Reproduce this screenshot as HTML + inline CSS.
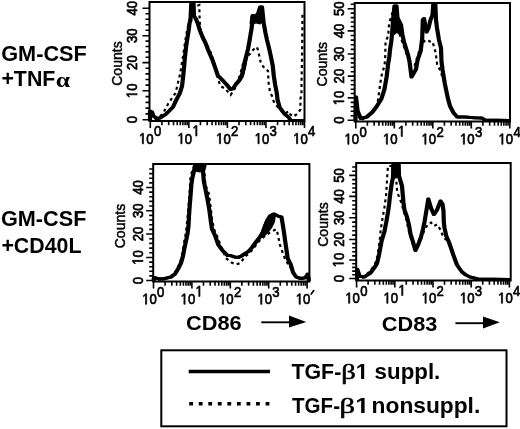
<!DOCTYPE html>
<html><head><meta charset="utf-8"><style>
html,body{margin:0;padding:0;background:#fff;overflow:hidden;}
svg{display:block;will-change:transform;}
</style></head><body>
<svg width="520" height="429" viewBox="0 0 520 429" font-family='"Liberation Sans", sans-serif'>
<style>.d{stroke:#000;stroke-width:0.7px}.c{stroke:#000;stroke-width:0.45px}</style>
<rect width="520" height="429" fill="#fff"/>
<rect x="149.5" y="2" width="155" height="119" fill="none" stroke="#000" stroke-width="2"/>
<path d="M142.5 119.7H149.5M145.5 113.92H149.5M145.5 108.14H149.5M145.5 102.36H149.5M145.5 96.58H149.5M142.5 90.8H149.5M145.5 85.16H149.5M145.5 79.52H149.5M145.5 73.88H149.5M145.5 68.24H149.5M142.5 62.6H149.5M145.5 57.24H149.5M145.5 51.88H149.5M145.5 46.52H149.5M145.5 41.16H149.5M142.5 35.8H149.5M145.5 30.28H149.5M145.5 24.76H149.5M145.5 19.24H149.5M145.5 13.72H149.5M142.5 8.2H149.5M150.3 121V128M161.9 121V125.3M168.69 121V125.3M173.51 121V125.3M177.25 121V125.3M180.3 121V125.3M182.88 121V125.3M185.11 121V125.3M187.09 121V125.3M188.85 121V128M200.45 121V125.3M207.24 121V125.3M212.06 121V125.3M215.8 121V125.3M218.85 121V125.3M221.43 121V125.3M223.66 121V125.3M225.64 121V125.3M227.4 121V128M239 121V125.3M245.79 121V125.3M250.61 121V125.3M254.35 121V125.3M257.4 121V125.3M259.98 121V125.3M262.21 121V125.3M264.19 121V125.3M265.95 121V128M277.55 121V125.3M284.34 121V125.3M289.16 121V125.3M292.9 121V125.3M295.95 121V125.3M298.53 121V125.3M300.76 121V125.3M302.74 121V125.3M304.5 121V128" stroke="#000" stroke-width="1.6" fill="none"/>
<g transform="translate(137.2 119.7) rotate(-90) scale(0.86 1)"><text class="d" x="-4.25" font-size="15.3">0</text></g>
<g transform="translate(137.2 90.8) rotate(-90) scale(0.86 1)"><path class="d" d="M515 0L515 1237L197 1010L197 1180L530 1409L696 1409L696 0Z" transform="translate(-8.51 0) scale(0.00747 -0.00747)" vector-effect="non-scaling-stroke"/><text class="d" x="0" font-size="15.3">0</text></g>
<g transform="translate(137.2 62.6) rotate(-90) scale(0.86 1)"><text class="d" x="-8.51" font-size="15.3">2</text><text class="d" x="0" font-size="15.3">0</text></g>
<g transform="translate(137.2 35.8) rotate(-90) scale(0.86 1)"><text class="d" x="-8.51" font-size="15.3">3</text><text class="d" x="0" font-size="15.3">0</text></g>
<g transform="translate(137.2 8.2) rotate(-90) scale(0.86 1)"><text class="d" x="-8.51" font-size="15.3">4</text><text class="d" x="0" font-size="15.3">0</text></g>
<text transform="translate(122.1 63.5) rotate(-90) scale(1.02 1)" text-anchor="middle" font-size="13.8" class="c">Counts</text>
<g transform="translate(139 143.8) scale(0.86 1)"><path class="d" d="M515 0L515 1237L197 1010L197 1180L530 1409L696 1409L696 0Z" transform="translate(0 0) scale(0.00747 -0.00747)" vector-effect="non-scaling-stroke"/><text class="d" x="8.51" font-size="15.3">0</text></g>
<g transform="translate(153.9 136) scale(0.86 1)"><text class="d" x="0" font-size="15.3">0</text></g>
<g transform="translate(177.55 143.8) scale(0.86 1)"><path class="d" d="M515 0L515 1237L197 1010L197 1180L530 1409L696 1409L696 0Z" transform="translate(0 0) scale(0.00747 -0.00747)" vector-effect="non-scaling-stroke"/><text class="d" x="8.51" font-size="15.3">0</text></g>
<g transform="translate(192.45 136) scale(0.86 1)"><path class="d" d="M515 0L515 1237L197 1010L197 1180L530 1409L696 1409L696 0Z" transform="translate(0 0) scale(0.00747 -0.00747)" vector-effect="non-scaling-stroke"/></g>
<g transform="translate(216.1 143.8) scale(0.86 1)"><path class="d" d="M515 0L515 1237L197 1010L197 1180L530 1409L696 1409L696 0Z" transform="translate(0 0) scale(0.00747 -0.00747)" vector-effect="non-scaling-stroke"/><text class="d" x="8.51" font-size="15.3">0</text></g>
<g transform="translate(231 136) scale(0.86 1)"><text class="d" x="0" font-size="15.3">2</text></g>
<g transform="translate(254.65 143.8) scale(0.86 1)"><path class="d" d="M515 0L515 1237L197 1010L197 1180L530 1409L696 1409L696 0Z" transform="translate(0 0) scale(0.00747 -0.00747)" vector-effect="non-scaling-stroke"/><text class="d" x="8.51" font-size="15.3">0</text></g>
<g transform="translate(269.55 136) scale(0.86 1)"><text class="d" x="0" font-size="15.3">3</text></g>
<g transform="translate(293.2 143.8) scale(0.86 1)"><path class="d" d="M515 0L515 1237L197 1010L197 1180L530 1409L696 1409L696 0Z" transform="translate(0 0) scale(0.00747 -0.00747)" vector-effect="non-scaling-stroke"/><text class="d" x="8.51" font-size="15.3">0</text></g>
<g transform="translate(308.1 136) scale(0.86 1)"><text class="d" x="0" font-size="15.3">4</text></g>
<polyline points="155,120 158.8,117.7 163.4,113 165.8,108 169,102.5 172.5,97.5 175.5,93 177.2,86.3 178.4,81 180,74.5 182.7,58.5 184.2,48 185.6,39.2 187,31 188.5,23.8 190,17 192,11 195,6.5 199.3,5 199.6,19 200.5,31 202.5,38 207,45 211.5,54 214,62 216,70 217.5,77 220.3,86 225,88.5 230.6,95 234,90 237,84 240,75 243,64 247,56 250,54 253,50 256.8,47 258,50 261,63.8 264.5,68 268,70.8 268.5,82 270,92 272,96 273.5,101 276,105 279,108.5 282,111.5 285,113.5 287.5,112 289.4,111.5 290,114 293,116.7 297.8,113.6 300.4,109.4 300.4,99 301.5,94.7 301.5,83 302,60 302.5,14.6" fill="none" stroke="#000" stroke-width="2.2" stroke-dasharray="3 3.3"/>
<polyline points="150,121 150,111 152,112 153.4,116 157,118.5 160,118 165.8,114.3 172.8,107.3 176,100.5 179.8,93.3 182,86.3 183,78 184,68 184.8,58.5 186.2,46 187.5,37.4 188.6,30.8 189.5,23.4 190.5,20 191.3,3 193.5,3 194,16 196,19 197.7,23.4 200,30.8 202.5,37 205.5,43 208,49.7 212.3,59.6 215.8,69.5 217.8,75.5 223.7,81.4 227,85 230.5,89.5 233,88.5 236,84 239.5,80 242,75 243.5,68 244.8,61.6 246.5,55 248,49 249.3,42 250.3,36 251.5,29 252.3,22 252.8,15.6 254.5,16 256,15.5 258,14 260.2,7 262,7 263.6,22.4 265.5,33 267,40 269,48 271,57 272.8,66 273.8,76 275.2,85 276.6,92 277.6,100 279.8,107.7 284.5,113.8 289,117.7 290.6,120.5 304,120.5" fill="none" stroke="#000" stroke-width="3.0" stroke-linejoin="round" transform="translate(-0.6 0)"/>
<polyline points="150,121 150,111 152,112 153.4,116 157,118.5 160,118 165.8,114.3 172.8,107.3 176,100.5 179.8,93.3 182,86.3 183,78 184,68 184.8,58.5 186.2,46 187.5,37.4 188.6,30.8 189.5,23.4 190.5,20 191.3,3 193.5,3 194,16 196,19 197.7,23.4 200,30.8 202.5,37 205.5,43 208,49.7 212.3,59.6 215.8,69.5 217.8,75.5 223.7,81.4 227,85 230.5,89.5 233,88.5 236,84 239.5,80 242,75 243.5,68 244.8,61.6 246.5,55 248,49 249.3,42 250.3,36 251.5,29 252.3,22 252.8,15.6 254.5,16 256,15.5 258,14 260.2,7 262,7 263.6,22.4 265.5,33 267,40 269,48 271,57 272.8,66 273.8,76 275.2,85 276.6,92 277.6,100 279.8,107.7 284.5,113.8 289,117.7 290.6,120.5 304,120.5" fill="none" stroke="#000" stroke-width="3.0" stroke-linejoin="round" transform="translate(0.6 0)"/>
<polyline points="234,87 239,81.5 242.5,76 244.5,68 246,60 247.5,53" fill="none" stroke="#000" stroke-width="3.0" stroke-linejoin="round"/>
<polygon points="250.5,15.5 253.5,14.8 256,16 258.5,14 260,9 262.3,9 263.5,22 260,24.5 256,23.5 252,25 249.5,23.5" fill="#000"/>
<rect x="354.7" y="3" width="155.3" height="118.5" fill="none" stroke="#000" stroke-width="2"/>
<path d="M347.7 120.2H354.7M350.7 115.74H354.7M350.7 111.28H354.7M350.7 106.82H354.7M350.7 102.36H354.7M347.7 97.9H354.7M350.7 93.54H354.7M350.7 89.18H354.7M350.7 84.82H354.7M350.7 80.46H354.7M347.7 76.1H354.7M350.7 71.68H354.7M350.7 67.26H354.7M350.7 62.84H354.7M350.7 58.42H354.7M347.7 54H354.7M350.7 49.38H354.7M350.7 44.76H354.7M350.7 40.14H354.7M350.7 35.52H354.7M347.7 30.9H354.7M350.7 26.46H354.7M350.7 22.02H354.7M350.7 17.58H354.7M350.7 13.14H354.7M347.7 8.7H354.7M350.7 4.26H354.7M355.8 121.5V128.5M367.39 121.5V125.8M374.17 121.5V125.8M378.98 121.5V125.8M382.71 121.5V125.8M385.76 121.5V125.8M388.34 121.5V125.8M390.57 121.5V125.8M392.54 121.5V125.8M394.3 121.5V128.5M405.89 121.5V125.8M412.67 121.5V125.8M417.48 121.5V125.8M421.21 121.5V125.8M424.26 121.5V125.8M426.84 121.5V125.8M429.07 121.5V125.8M431.04 121.5V125.8M432.8 121.5V128.5M444.39 121.5V125.8M451.17 121.5V125.8M455.98 121.5V125.8M459.71 121.5V125.8M462.76 121.5V125.8M465.34 121.5V125.8M467.57 121.5V125.8M469.54 121.5V125.8M471.3 121.5V128.5M482.89 121.5V125.8M489.67 121.5V125.8M494.48 121.5V125.8M498.21 121.5V125.8M501.26 121.5V125.8M503.84 121.5V125.8M506.07 121.5V125.8M508.04 121.5V125.8M509.8 121.5V128.5" stroke="#000" stroke-width="1.6" fill="none"/>
<g transform="translate(344 120.2) rotate(-90) scale(0.86 1)"><text class="d" x="-4.25" font-size="15.3">0</text></g>
<g transform="translate(344 97.9) rotate(-90) scale(0.86 1)"><path class="d" d="M515 0L515 1237L197 1010L197 1180L530 1409L696 1409L696 0Z" transform="translate(-8.51 0) scale(0.00747 -0.00747)" vector-effect="non-scaling-stroke"/><text class="d" x="0" font-size="15.3">0</text></g>
<g transform="translate(344 76.1) rotate(-90) scale(0.86 1)"><text class="d" x="-8.51" font-size="15.3">2</text><text class="d" x="0" font-size="15.3">0</text></g>
<g transform="translate(344 54) rotate(-90) scale(0.86 1)"><text class="d" x="-8.51" font-size="15.3">3</text><text class="d" x="0" font-size="15.3">0</text></g>
<g transform="translate(344 30.9) rotate(-90) scale(0.86 1)"><text class="d" x="-8.51" font-size="15.3">4</text><text class="d" x="0" font-size="15.3">0</text></g>
<g transform="translate(344 8.7) rotate(-90) scale(0.86 1)"><text class="d" x="-8.51" font-size="15.3">5</text><text class="d" x="0" font-size="15.3">0</text></g>
<text transform="translate(327.2 64.2) rotate(-90) scale(1.02 1)" text-anchor="middle" font-size="13.8" class="c">Counts</text>
<g transform="translate(344.5 144.3) scale(0.86 1)"><path class="d" d="M515 0L515 1237L197 1010L197 1180L530 1409L696 1409L696 0Z" transform="translate(0 0) scale(0.00747 -0.00747)" vector-effect="non-scaling-stroke"/><text class="d" x="8.51" font-size="15.3">0</text></g>
<g transform="translate(359.4 136.5) scale(0.86 1)"><text class="d" x="0" font-size="15.3">0</text></g>
<g transform="translate(383 144.3) scale(0.86 1)"><path class="d" d="M515 0L515 1237L197 1010L197 1180L530 1409L696 1409L696 0Z" transform="translate(0 0) scale(0.00747 -0.00747)" vector-effect="non-scaling-stroke"/><text class="d" x="8.51" font-size="15.3">0</text></g>
<g transform="translate(397.9 136.5) scale(0.86 1)"><path class="d" d="M515 0L515 1237L197 1010L197 1180L530 1409L696 1409L696 0Z" transform="translate(0 0) scale(0.00747 -0.00747)" vector-effect="non-scaling-stroke"/></g>
<g transform="translate(421.5 144.3) scale(0.86 1)"><path class="d" d="M515 0L515 1237L197 1010L197 1180L530 1409L696 1409L696 0Z" transform="translate(0 0) scale(0.00747 -0.00747)" vector-effect="non-scaling-stroke"/><text class="d" x="8.51" font-size="15.3">0</text></g>
<g transform="translate(436.4 136.5) scale(0.86 1)"><text class="d" x="0" font-size="15.3">2</text></g>
<g transform="translate(460 144.3) scale(0.86 1)"><path class="d" d="M515 0L515 1237L197 1010L197 1180L530 1409L696 1409L696 0Z" transform="translate(0 0) scale(0.00747 -0.00747)" vector-effect="non-scaling-stroke"/><text class="d" x="8.51" font-size="15.3">0</text></g>
<g transform="translate(474.9 136.5) scale(0.86 1)"><text class="d" x="0" font-size="15.3">3</text></g>
<g transform="translate(498.5 144.3) scale(0.86 1)"><path class="d" d="M515 0L515 1237L197 1010L197 1180L530 1409L696 1409L696 0Z" transform="translate(0 0) scale(0.00747 -0.00747)" vector-effect="non-scaling-stroke"/><text class="d" x="8.51" font-size="15.3">0</text></g>
<g transform="translate(513.4 136.5) scale(0.86 1)"><text class="d" x="0" font-size="15.3">4</text></g>
<polyline points="362,120 368.4,114.5 373,110.5 376.3,107.5 378,100 379,93 380.5,82 382,73.5 384.5,66 385.2,58 385.4,48 385.6,41 388.3,36 388.6,28 389.5,22 392,14 393.8,9.2 396,20 399,32 403,44 407,55 411,66 414.5,66 418,55 421,45 425.3,40 430,41.5 432.5,41.5 435.6,52.3 437.2,64.6 440,70 443.5,80" fill="none" stroke="#000" stroke-width="2.2" stroke-dasharray="3 3.3"/>
<polyline points="355.5,121 356,97 357.6,110.8 360.7,118.5 366.8,117 372.5,112 377,106 381.3,99 384.3,90 386.6,77 388.1,64 389.3,57 390,50 391.2,42 392,35 393,20 394.5,6 396.5,6 397.5,18 401,25 402.5,35 404,42 406.5,50 408.3,56 409.5,61.5 411.5,77 416,69.2 417.6,60 420.7,50.8 422.2,38.5 422.8,20 424,18.5 426.5,32 428.5,28 430.5,20 432.5,15 433.3,3.5 435.3,3.5 436,20 437,28 439,40 441,48 441.5,61.5 442.6,70 444.8,83.6 447.8,98 450,106 453.3,112.5 457.2,117 464.8,117 474,117.7 481.8,118 484.8,120 509,120.5" fill="none" stroke="#000" stroke-width="3.0" stroke-linejoin="round" transform="translate(-0.6 0)"/>
<polyline points="355.5,121 356,97 357.6,110.8 360.7,118.5 366.8,117 372.5,112 377,106 381.3,99 384.3,90 386.6,77 388.1,64 389.3,57 390,50 391.2,42 392,35 393,20 394.5,6 396.5,6 397.5,18 401,25 402.5,35 404,42 406.5,50 408.3,56 409.5,61.5 411.5,77 416,69.2 417.6,60 420.7,50.8 422.2,38.5 422.8,20 424,18.5 426.5,32 428.5,28 430.5,20 432.5,15 433.3,3.5 435.3,3.5 436,20 437,28 439,40 441,48 441.5,61.5 442.6,70 444.8,83.6 447.8,98 450,106 453.3,112.5 457.2,117 464.8,117 474,117.7 481.8,118 484.8,120 509,120.5" fill="none" stroke="#000" stroke-width="3.0" stroke-linejoin="round" transform="translate(0.6 0)"/>
<polygon points="393.6,9 397.2,9 397.8,18 401.5,22 402.6,34 400,35.5 397,33 394.5,35 392.2,34 392.5,20" fill="#000"/>
<rect x="153.2" y="164" width="156.2" height="117.5" fill="none" stroke="#000" stroke-width="2"/>
<path d="M146.2 280.5H153.2M149.2 275.9H153.2M149.2 271.3H153.2M149.2 266.7H153.2M149.2 262.1H153.2M146.2 257.5H153.2M149.2 252.8H153.2M149.2 248.1H153.2M149.2 243.4H153.2M149.2 238.7H153.2M146.2 234H153.2M149.2 229.34H153.2M149.2 224.68H153.2M149.2 220.02H153.2M149.2 215.36H153.2M146.2 210.7H153.2M149.2 206.06H153.2M149.2 201.42H153.2M149.2 196.78H153.2M149.2 192.14H153.2M146.2 187.5H153.2M149.2 182.86H153.2M149.2 178.22H153.2M149.2 173.58H153.2M149.2 168.94H153.2M153.5 281.5V288.5M165.06 281.5V285.8M171.82 281.5V285.8M176.62 281.5V285.8M180.34 281.5V285.8M183.38 281.5V285.8M185.95 281.5V285.8M188.18 281.5V285.8M190.14 281.5V285.8M191.9 281.5V288.5M203.46 281.5V285.8M210.22 281.5V285.8M215.02 281.5V285.8M218.74 281.5V285.8M221.78 281.5V285.8M224.35 281.5V285.8M226.58 281.5V285.8M228.54 281.5V285.8M230.3 281.5V288.5M241.86 281.5V285.8M248.62 281.5V285.8M253.42 281.5V285.8M257.14 281.5V285.8M260.18 281.5V285.8M262.75 281.5V285.8M264.98 281.5V285.8M266.94 281.5V285.8M268.7 281.5V288.5M280.26 281.5V285.8M287.02 281.5V285.8M291.82 281.5V285.8M295.54 281.5V285.8M298.58 281.5V285.8M301.15 281.5V285.8M303.38 281.5V285.8M305.34 281.5V285.8M307.1 281.5V288.5" stroke="#000" stroke-width="1.6" fill="none"/>
<g transform="translate(143 280.5) rotate(-90) scale(0.86 1)"><text class="d" x="-4.25" font-size="15.3">0</text></g>
<g transform="translate(143 257.5) rotate(-90) scale(0.86 1)"><path class="d" d="M515 0L515 1237L197 1010L197 1180L530 1409L696 1409L696 0Z" transform="translate(-8.51 0) scale(0.00747 -0.00747)" vector-effect="non-scaling-stroke"/><text class="d" x="0" font-size="15.3">0</text></g>
<g transform="translate(143 234) rotate(-90) scale(0.86 1)"><text class="d" x="-8.51" font-size="15.3">2</text><text class="d" x="0" font-size="15.3">0</text></g>
<g transform="translate(143 210.7) rotate(-90) scale(0.86 1)"><text class="d" x="-8.51" font-size="15.3">3</text><text class="d" x="0" font-size="15.3">0</text></g>
<g transform="translate(143 187.5) rotate(-90) scale(0.86 1)"><text class="d" x="-8.51" font-size="15.3">4</text><text class="d" x="0" font-size="15.3">0</text></g>
<text transform="translate(125.2 226) rotate(-90) scale(1.02 1)" text-anchor="middle" font-size="13.8" class="c">Counts</text>
<g transform="translate(142.2 304.3) scale(0.86 1)"><path class="d" d="M515 0L515 1237L197 1010L197 1180L530 1409L696 1409L696 0Z" transform="translate(0 0) scale(0.00747 -0.00747)" vector-effect="non-scaling-stroke"/><text class="d" x="8.51" font-size="15.3">0</text></g>
<g transform="translate(157.1 296.5) scale(0.86 1)"><text class="d" x="0" font-size="15.3">0</text></g>
<g transform="translate(180.6 304.3) scale(0.86 1)"><path class="d" d="M515 0L515 1237L197 1010L197 1180L530 1409L696 1409L696 0Z" transform="translate(0 0) scale(0.00747 -0.00747)" vector-effect="non-scaling-stroke"/><text class="d" x="8.51" font-size="15.3">0</text></g>
<g transform="translate(195.5 296.5) scale(0.86 1)"><path class="d" d="M515 0L515 1237L197 1010L197 1180L530 1409L696 1409L696 0Z" transform="translate(0 0) scale(0.00747 -0.00747)" vector-effect="non-scaling-stroke"/></g>
<g transform="translate(219 304.3) scale(0.86 1)"><path class="d" d="M515 0L515 1237L197 1010L197 1180L530 1409L696 1409L696 0Z" transform="translate(0 0) scale(0.00747 -0.00747)" vector-effect="non-scaling-stroke"/><text class="d" x="8.51" font-size="15.3">0</text></g>
<g transform="translate(233.9 296.5) scale(0.86 1)"><text class="d" x="0" font-size="15.3">2</text></g>
<g transform="translate(257.4 304.3) scale(0.86 1)"><path class="d" d="M515 0L515 1237L197 1010L197 1180L530 1409L696 1409L696 0Z" transform="translate(0 0) scale(0.00747 -0.00747)" vector-effect="non-scaling-stroke"/><text class="d" x="8.51" font-size="15.3">0</text></g>
<g transform="translate(272.3 296.5) scale(0.86 1)"><text class="d" x="0" font-size="15.3">3</text></g>
<g transform="translate(295.8 304.3) scale(0.86 1)"><path class="d" d="M515 0L515 1237L197 1010L197 1180L530 1409L696 1409L696 0Z" transform="translate(0 0) scale(0.00747 -0.00747)" vector-effect="non-scaling-stroke"/><text class="d" x="8.51" font-size="15.3">0</text></g>
<path d="M311.2 294L313.8 290.6" stroke="#000" stroke-width="1.7" stroke-linecap="round"/>
<polyline points="158,280 165,278.5 170,277 174,273.5 177,269 180,263 182,256 183.3,248 184.5,240 186,232 187.8,215 189.5,195 190.5,177 193,168 196,165 203,166 204.5,172 205,181 206.5,188 209,194 210,202 211,210 212,219 214,229 217,236 220.5,245 225.8,258 231.5,262.5 236,264.5 240.6,263 245,256.5 248.5,254 252,250 256,245 260,240 265,236 270,232.5 276.2,229.2 277.5,233 278.5,238 280,245 282,251 285.5,260 290,267 295,275" fill="none" stroke="#000" stroke-width="2.2" stroke-dasharray="3 3.3"/>
<polyline points="153.5,281 154,277.5 157,278.5 163,279 167,278 171,277 175,274 178,269 181,263 183,256 184.5,248 186,241 187.5,234 188.5,226 189,216 189.8,204.8 190.6,195 191.3,185.2 192.3,178 194,171.2 195,165.5 204.5,165.5 203,171.2 203.8,181 205.2,188 206.6,195 208,202 209.4,210.3 210.5,218.7 212,229.2 215,235.4 218.2,244.6 222.8,250.8 227.4,255.4 230,255.4 234.6,257 238,257.5 241.5,256 245,253.5 248.5,251.5 252,247.5 256,242 260,237 263,232 265,226 267.5,220 270,216 273.6,214 276,215 279,216.5 281.5,217 283,226 284.2,234 285.3,242 286.5,250 287.7,258.5 290.8,264.6 293,272.3 296.2,277 300.8,278.5 305.4,277.7 307.7,274 309,281" fill="none" stroke="#000" stroke-width="3.0" stroke-linejoin="round" transform="translate(-0.6 0)"/>
<polyline points="153.5,281 154,277.5 157,278.5 163,279 167,278 171,277 175,274 178,269 181,263 183,256 184.5,248 186,241 187.5,234 188.5,226 189,216 189.8,204.8 190.6,195 191.3,185.2 192.3,178 194,171.2 195,165.5 204.5,165.5 203,171.2 203.8,181 205.2,188 206.6,195 208,202 209.4,210.3 210.5,218.7 212,229.2 215,235.4 218.2,244.6 222.8,250.8 227.4,255.4 230,255.4 234.6,257 238,257.5 241.5,256 245,253.5 248.5,251.5 252,247.5 256,242 260,237 263,232 265,226 267.5,220 270,216 273.6,214 276,215 279,216.5 281.5,217 283,226 284.2,234 285.3,242 286.5,250 287.7,258.5 290.8,264.6 293,272.3 296.2,277 300.8,278.5 305.4,277.7 307.7,274 309,281" fill="none" stroke="#000" stroke-width="3.0" stroke-linejoin="round" transform="translate(0.6 0)"/>
<polygon points="194,163.5 205,163.5 204.2,170 200.5,172.5 196.5,172 193.8,170" fill="#000"/>
<polygon points="259,236 262,229 265,221 268,216.5 273.5,213 276,214.5 275,222 272,228 268,233 263,238" fill="#000"/>
<rect x="356.2" y="163" width="154.5" height="117.5" fill="none" stroke="#000" stroke-width="2"/>
<path d="M349.2 278.5H356.2M352.2 274.8H356.2M352.2 271.1H356.2M352.2 267.4H356.2M352.2 263.7H356.2M349.2 260H356.2M352.2 255.9H356.2M352.2 251.8H356.2M352.2 247.7H356.2M352.2 243.6H356.2M349.2 239.5H356.2M352.2 235.16H356.2M352.2 230.82H356.2M352.2 226.48H356.2M352.2 222.14H356.2M349.2 217.8H356.2M352.2 213.52H356.2M352.2 209.24H356.2M352.2 204.96H356.2M352.2 200.68H356.2M349.2 196.4H356.2M352.2 192.2H356.2M352.2 188H356.2M352.2 183.8H356.2M352.2 179.6H356.2M349.2 175.4H356.2M352.2 171.2H356.2M352.2 167H356.2M356.6 280.5V287.5M368.1 280.5V284.8M374.83 280.5V284.8M379.6 280.5V284.8M383.3 280.5V284.8M386.33 280.5V284.8M388.88 280.5V284.8M391.1 280.5V284.8M393.05 280.5V284.8M394.8 280.5V287.5M406.3 280.5V284.8M413.03 280.5V284.8M417.8 280.5V284.8M421.5 280.5V284.8M424.53 280.5V284.8M427.08 280.5V284.8M429.3 280.5V284.8M431.25 280.5V284.8M433 280.5V287.5M444.5 280.5V284.8M451.23 280.5V284.8M456 280.5V284.8M459.7 280.5V284.8M462.73 280.5V284.8M465.28 280.5V284.8M467.5 280.5V284.8M469.45 280.5V284.8M471.2 280.5V287.5M482.7 280.5V284.8M489.43 280.5V284.8M494.2 280.5V284.8M497.9 280.5V284.8M500.93 280.5V284.8M503.48 280.5V284.8M505.7 280.5V284.8M507.65 280.5V284.8M509.4 280.5V287.5" stroke="#000" stroke-width="1.6" fill="none"/>
<g transform="translate(343.5 278.5) rotate(-90) scale(0.86 1)"><text class="d" x="-4.25" font-size="15.3">0</text></g>
<g transform="translate(343.5 260) rotate(-90) scale(0.86 1)"><path class="d" d="M515 0L515 1237L197 1010L197 1180L530 1409L696 1409L696 0Z" transform="translate(-8.51 0) scale(0.00747 -0.00747)" vector-effect="non-scaling-stroke"/><text class="d" x="0" font-size="15.3">0</text></g>
<g transform="translate(343.5 239.5) rotate(-90) scale(0.86 1)"><text class="d" x="-8.51" font-size="15.3">2</text><text class="d" x="0" font-size="15.3">0</text></g>
<g transform="translate(343.5 217.8) rotate(-90) scale(0.86 1)"><text class="d" x="-8.51" font-size="15.3">3</text><text class="d" x="0" font-size="15.3">0</text></g>
<g transform="translate(343.5 196.4) rotate(-90) scale(0.86 1)"><text class="d" x="-8.51" font-size="15.3">4</text><text class="d" x="0" font-size="15.3">0</text></g>
<g transform="translate(343.5 175.4) rotate(-90) scale(0.86 1)"><text class="d" x="-8.51" font-size="15.3">5</text><text class="d" x="0" font-size="15.3">0</text></g>
<text transform="translate(328.2 224.5) rotate(-90) scale(1.02 1)" text-anchor="middle" font-size="13.8" class="c">Counts</text>
<g transform="translate(345.3 303.3) scale(0.86 1)"><path class="d" d="M515 0L515 1237L197 1010L197 1180L530 1409L696 1409L696 0Z" transform="translate(0 0) scale(0.00747 -0.00747)" vector-effect="non-scaling-stroke"/><text class="d" x="8.51" font-size="15.3">0</text></g>
<g transform="translate(360.2 295.5) scale(0.86 1)"><text class="d" x="0" font-size="15.3">0</text></g>
<g transform="translate(383.5 303.3) scale(0.86 1)"><path class="d" d="M515 0L515 1237L197 1010L197 1180L530 1409L696 1409L696 0Z" transform="translate(0 0) scale(0.00747 -0.00747)" vector-effect="non-scaling-stroke"/><text class="d" x="8.51" font-size="15.3">0</text></g>
<g transform="translate(398.4 295.5) scale(0.86 1)"><path class="d" d="M515 0L515 1237L197 1010L197 1180L530 1409L696 1409L696 0Z" transform="translate(0 0) scale(0.00747 -0.00747)" vector-effect="non-scaling-stroke"/></g>
<g transform="translate(421.7 303.3) scale(0.86 1)"><path class="d" d="M515 0L515 1237L197 1010L197 1180L530 1409L696 1409L696 0Z" transform="translate(0 0) scale(0.00747 -0.00747)" vector-effect="non-scaling-stroke"/><text class="d" x="8.51" font-size="15.3">0</text></g>
<g transform="translate(436.6 295.5) scale(0.86 1)"><text class="d" x="0" font-size="15.3">2</text></g>
<g transform="translate(459.9 303.3) scale(0.86 1)"><path class="d" d="M515 0L515 1237L197 1010L197 1180L530 1409L696 1409L696 0Z" transform="translate(0 0) scale(0.00747 -0.00747)" vector-effect="non-scaling-stroke"/><text class="d" x="8.51" font-size="15.3">0</text></g>
<g transform="translate(474.8 295.5) scale(0.86 1)"><text class="d" x="0" font-size="15.3">3</text></g>
<g transform="translate(498.1 303.3) scale(0.86 1)"><path class="d" d="M515 0L515 1237L197 1010L197 1180L530 1409L696 1409L696 0Z" transform="translate(0 0) scale(0.00747 -0.00747)" vector-effect="non-scaling-stroke"/><text class="d" x="8.51" font-size="15.3">0</text></g>
<g transform="translate(513 295.5) scale(0.86 1)"><text class="d" x="0" font-size="15.3">4</text></g>
<polyline points="362,278 366,275 371,270 375,264 377.5,256 379.7,241 380.7,229.8 382.5,218.6 384.4,207.4 386.1,195 386.8,185 387.3,175 388,166 392,166 394,174 396.5,183 397.2,192.3 400,199 402,205 404,212 406.5,220 408.5,230 411.5,240 414.5,249 418,246 421.5,238 424.5,230 428,224 431,222.5 434,226 437,224.5 440,229 443,236 446,240" fill="none" stroke="#000" stroke-width="2.2" stroke-dasharray="3 3.3"/>
<polyline points="357,280 357.3,269.2 359.6,276.2 364.2,277 370.4,273 375.5,266 377,263.4 378.8,256 381.6,241 384.4,231.6 386.3,222 388,212 389,205 390,196 391.5,185 393,177 393.3,164.5 398.7,164.5 399,176 400.5,181 402,186 402.8,195 403.5,203 404.5,210 407,217 409,225 410.5,234 413,242 415.5,250.5 418,245 421,237 423,229 424.5,222 426.5,210 428.3,199 431,208 434,214.5 437,210 440.5,201 442.5,204 443.5,211 443.8,222 444.5,228 446.3,236 448.7,241.6 451,248 453,254 455,259.5 456.8,264.5 459.5,268.5 462,272 466,275 470,277 478,279 510,279.5" fill="none" stroke="#000" stroke-width="3.0" stroke-linejoin="round" transform="translate(-0.6 0)"/>
<polyline points="357,280 357.3,269.2 359.6,276.2 364.2,277 370.4,273 375.5,266 377,263.4 378.8,256 381.6,241 384.4,231.6 386.3,222 388,212 389,205 390,196 391.5,185 393,177 393.3,164.5 398.7,164.5 399,176 400.5,181 402,186 402.8,195 403.5,203 404.5,210 407,217 409,225 410.5,234 413,242 415.5,250.5 418,245 421,237 423,229 424.5,222 426.5,210 428.3,199 431,208 434,214.5 437,210 440.5,201 442.5,204 443.5,211 443.8,222 444.5,228 446.3,236 448.7,241.6 451,248 453,254 455,259.5 456.8,264.5 459.5,268.5 462,272 466,275 470,277 478,279 510,279.5" fill="none" stroke="#000" stroke-width="3.0" stroke-linejoin="round" transform="translate(0.6 0)"/>
<polygon points="391.8,163 399.8,163 399.8,176.5 396.5,178.5 392.5,177" fill="#000"/>
<g font-weight="bold">
<text x="1.21" y="60.7" textLength="85.58" lengthAdjust="spacingAndGlyphs" font-size="21.8">GM-CSF</text>
<text x="1.4" y="86" textLength="53.98" lengthAdjust="spacingAndGlyphs" font-size="21.8">+TNF</text>
<text x="55.76" y="86.5" textLength="14.3" lengthAdjust="spacingAndGlyphs" font-size="21.8" font-family='"Liberation Serif", serif'>&#945;</text>
<text x="1.01" y="225.8" textLength="85.38" lengthAdjust="spacingAndGlyphs" font-size="21.8">GM-CSF</text>
<text x="1.4" y="252.7" textLength="80.05" lengthAdjust="spacingAndGlyphs" font-size="21.8">+CD40L</text>
<text x="186.01" y="330.4" textLength="55.58" lengthAdjust="spacingAndGlyphs" font-size="20.8">CD86</text>
<text x="381.81" y="330.6" textLength="55.47" lengthAdjust="spacingAndGlyphs" font-size="20.8">CD83</text>
<text x="291.46" y="379" textLength="49.79" lengthAdjust="spacingAndGlyphs" font-size="21.8">TGF-</text>
<text x="341.26" y="379" textLength="14.56" lengthAdjust="spacingAndGlyphs" font-size="20.6" font-family='"Liberation Serif", serif' font-weight="normal" stroke="#000" stroke-width="0.5">&#946;</text>
<path d="M478 0L478 1170L140 959L140 1180L493 1409L759 1409L759 0Z" transform="translate(355.74 379) scale(0.01115 -0.01064)"/>
<text x="374.62" y="379" textLength="65.72" lengthAdjust="spacingAndGlyphs" font-size="21.8">suppl.</text>
<text x="292.07" y="413" textLength="47.95" lengthAdjust="spacingAndGlyphs" font-size="21.8">TGF-</text>
<text x="339.53" y="413" textLength="15.57" lengthAdjust="spacingAndGlyphs" font-size="20.9" font-family='"Liberation Serif", serif' font-weight="normal" stroke="#000" stroke-width="0.5">&#946;</text>
<path d="M478 0L478 1170L140 959L140 1180L493 1409L759 1409L759 0Z" transform="translate(355.28 413) scale(0.01228 -0.01064)"/>
<text x="371.6" y="413" textLength="108.67" lengthAdjust="spacingAndGlyphs" font-size="21.8">nonsuppl.</text>
</g>
<path d="M261.3 322.3H290" stroke="#000" stroke-width="1.9"/>
<path d="M289 315.4L306.3 322.1L289 327.5Z" fill="#000"/>
<path d="M455.4 323.2H484" stroke="#000" stroke-width="1.9"/>
<path d="M483 316.4L499.8 322.2L483 328.6Z" fill="#000"/>
<rect x="161.3" y="350.3" width="345.2" height="76" fill="none" stroke="#000" stroke-width="2"/>
<path d="M188.7 371.5H270" stroke="#000" stroke-width="3.4"/>
<path d="M189.2 403.7H270" stroke="#000" stroke-width="3.6" stroke-dasharray="3.8 5.75"/>
</svg>
</body></html>
